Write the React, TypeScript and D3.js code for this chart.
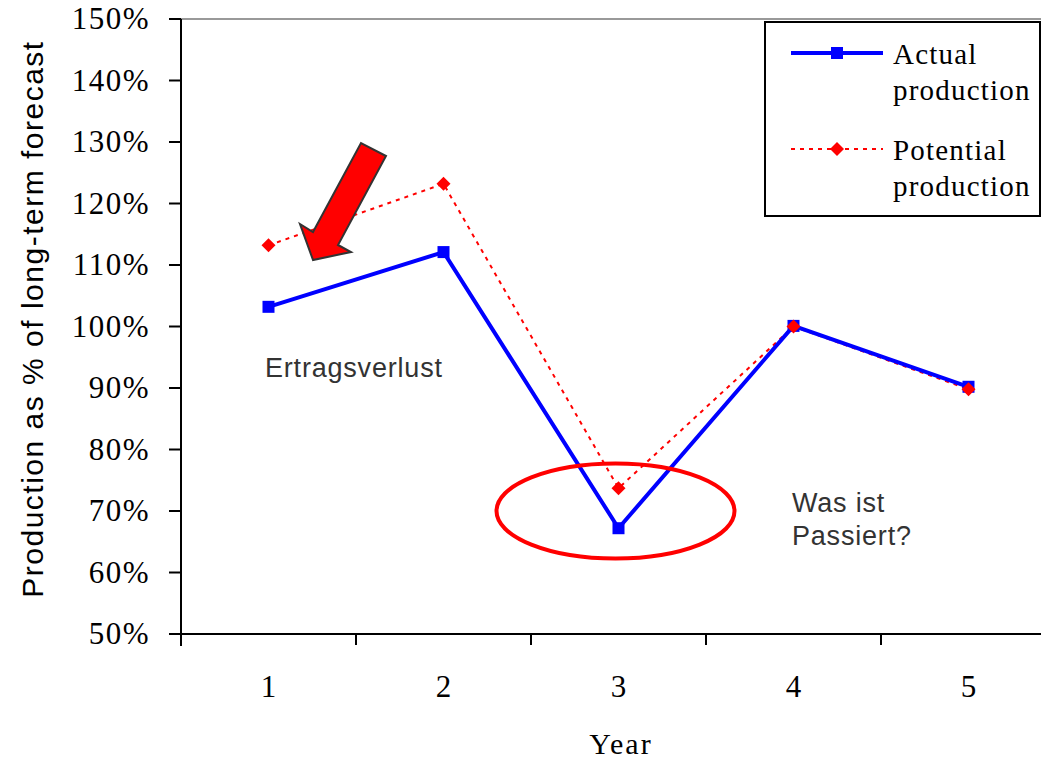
import React from "react";
import * as d3 from "d3";

const years = ["1", "2", "3", "4", "5"];
const actual = [103.2, 112.1, 67.2, 100.1, 90.2];
const potential = [113.2, 123.2, 73.7, 100.0, 89.8];
const yTicks = [50, 60, 70, 80, 90, 100, 110, 120, 130, 140, 150];

export default function App() {
  const left = 181, right = 1056, top = 19, bottom = 634;
  const x = d3.scaleBand<string>().domain(years).range([left, right]);
  const y = d3.scaleLinear().domain([50, 150]).range([bottom, top]);
  const cx = (d: string) => (x(d) as number) + x.bandwidth() / 2;
  const line = d3.line<number>().x((_, i) => cx(years[i])).y((v) => y(v));
  const serif = "'Liberation Serif', 'Times New Roman', serif";
  const sans = "'Liberation Sans', Arial, sans-serif";
  const xTickPos = years.map((d) => x(d) as number);
  const diamond = (px: number, py: number, r: number) =>
    `M${px},${py - r}L${px + r},${py}L${px},${py + r}L${px - r},${py}Z`;

  return (
    <svg width={1041} height={761} style={{ position: "absolute", left: 0, top: 0, background: "#fff" }}>
      {/* top border of plot area */}
      <line x1={left} x2={1041} y1={top} y2={top} stroke="#999" strokeWidth={2} />
      {/* y axis */}
      <line x1={left} x2={left} y1={top} y2={bottom + 12} stroke="#000" strokeWidth={2} />
      {yTicks.map((t) => (
        <g key={t}>
          <line x1={left - 12} x2={left} y1={y(t)} y2={y(t)} stroke="#000" strokeWidth={2} />
          <text x={150} y={y(t) + 10} textAnchor="end" fontFamily={serif} fontSize={31} letterSpacing={1.5} fill="#000">
            {t}%
          </text>
        </g>
      ))}
      {/* x axis */}
      <line x1={left - 12} x2={1041} y1={bottom} y2={bottom} stroke="#000" strokeWidth={2} />
      {xTickPos.map((p, i) => (
        <line key={i} x1={p} x2={p} y1={bottom} y2={bottom + 11} stroke="#000" strokeWidth={2} />
      ))}
      {years.map((d) => (
        <text key={d} x={cx(d)} y={697} textAnchor="middle" fontFamily={serif} fontSize={31} fill="#000">
          {d}
        </text>
      ))}
      <text x={621} y={754} textAnchor="middle" fontFamily={serif} fontSize={30} letterSpacing={2} fill="#000">Year</text>
      <text
        transform={`translate(43, 319) rotate(-90)`}
        textAnchor="middle"
        fontFamily={sans}
        fontSize={30}
        letterSpacing={1.5}
        fill="#000"
      >
        Production as % of long-term forecast
      </text>

      {/* series */}
      <path d={line(potential) || ""} fill="none" stroke="#ff0000" strokeWidth={2} strokeDasharray="4,5" />
      <path d={line(actual) || ""} fill="none" stroke="#0000ff" strokeWidth={4} />
      {actual.map((v, i) => (
        <rect key={i} x={cx(years[i]) - 6} y={y(v) - 6} width={12} height={12} fill="#0000ff" />
      ))}
      {potential.map((v, i) => (
        <path key={i} d={diamond(cx(years[i]), y(v), 7)} fill="#ff0000" />
      ))}

      {/* annotations */}
      <polygon
        points="313,260 300,224 313,232 361,143 386,156 338,245 351,252"
        fill="#ff0000"
        stroke="#333"
        strokeWidth={2}
        strokeLinejoin="miter"
      />
      <ellipse cx={615.5} cy={511} rx={119} ry={47.5} fill="none" stroke="#ff0000" strokeWidth={4} />
      <text x={265} y={377} fontFamily={sans} fontSize={27} letterSpacing={0.8} fill="#333">Ertragsverlust</text>
      <text x={792} y={512} fontFamily={sans} fontSize={27} letterSpacing={0.8} fill="#333">Was ist</text>
      <text x={792} y={545} fontFamily={sans} fontSize={27} letterSpacing={0.8} fill="#333">Passiert?</text>

      {/* legend */}
      <rect x={765} y={22} width={275} height={194} fill="#fff" stroke="#000" strokeWidth={2} />
      <line x1={791} x2={883} y1={53} y2={53} stroke="#0000ff" strokeWidth={4} />
      <rect x={831} y={47} width={12} height={12} fill="#0000ff" />
      <text x={893} y={64} fontFamily={serif} fontSize={29} letterSpacing={1.2} fill="#000">Actual</text>
      <text x={893} y={100} fontFamily={serif} fontSize={29} letterSpacing={1.2} fill="#000">production</text>
      <line x1={791} x2={883} y1={149} y2={149} stroke="#ff0000" strokeWidth={2} strokeDasharray="4,5" />
      <path d={diamond(837, 149, 7)} fill="#ff0000" />
      <text x={893} y={160} fontFamily={serif} fontSize={29} letterSpacing={1.2} fill="#000">Potential</text>
      <text x={893} y={196} fontFamily={serif} fontSize={29} letterSpacing={1.2} fill="#000">production</text>
    </svg>
  );
}
